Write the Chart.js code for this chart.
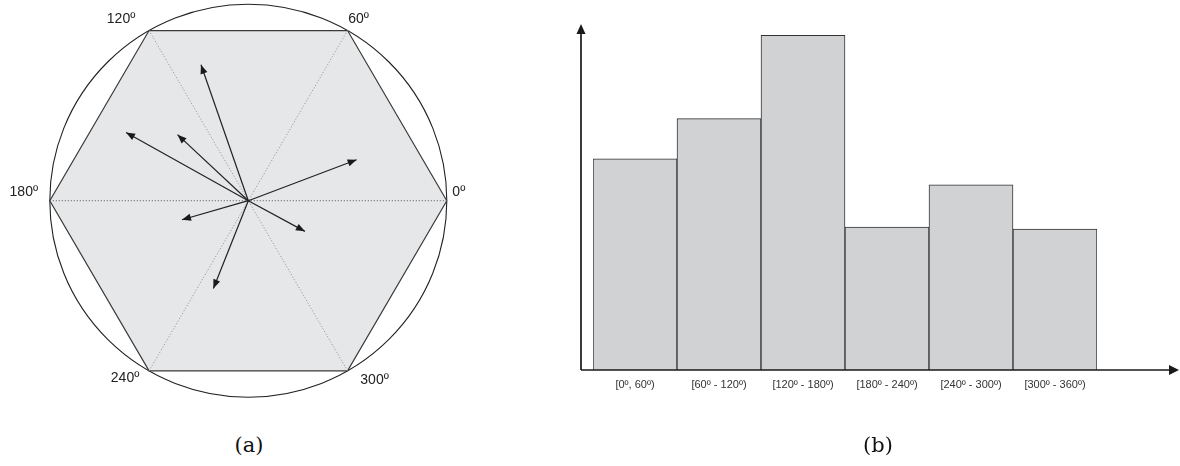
<!DOCTYPE html>
<html><head><meta charset="utf-8">
<script src="https://cdn.jsdelivr.net/npm/chart.js@4.4.0/dist/chart.umd.min.js"></script>
<style>
html,body{margin:0;padding:0;background:#fff;width:1180px;height:466px;overflow:hidden;}
#a{position:absolute;left:0;top:0;}
#b{position:absolute;left:560px;top:0;}
.cap{position:absolute;top:435px;font-family:"DejaVu Serif",serif;font-size:21px;line-height:1;color:#111;transform:translateX(-50%);white-space:nowrap;}
</style></head><body>
<canvas id="a" width="500" height="400"></canvas>
<canvas id="b" width="620" height="466"></canvas>
<div class="cap" style="left:249px">(a)</div>
<div class="cap" style="left:878px">(b)</div>
<script>
// ---- data ----
const sectorAngles = [0, 60, 120, 180, 240, 300];
const sectorLabels = ['0º', '60º', '120º', '180º', '240º', '300º'];
const vectorAngles = [20.9, 109.0, 136.7, 150.6, 196.2, 248.5, 331.3];
const vectorMagnitudes = [0.584, 0.732, 0.490, 0.707, 0.348, 0.480, 0.325];
const circleRadius = 1;
const binLabels = ['[0º, 60º)', '[60º - 120º)', '[120º - 180º)', '[180º - 240º)', '[240º - 300º)', '[300º - 360º)'];
const binValues = [0.631, 0.751, 1.0, 0.427, 0.553, 0.421];

// ---- helpers ----
const rad = d => d * Math.PI / 180;
const pt = (deg, r) => ({ x: r * Math.cos(rad(deg)), y: r * Math.sin(rad(deg)) });

// ---- chart (a) ----
const datasetsA = [];
datasetsA.push({
  data: sectorAngles.concat([sectorAngles[0]]).map(a => pt(a, circleRadius)),
  showLine: true, fill: 'shape', backgroundColor: '#e6e7e8',
  borderColor: '#3a3a3a', borderWidth: 1.2, pointRadius: 0, order: 10
});
sectorAngles.slice(0, 3).forEach((a, i) => {
  datasetsA.push({
    data: [pt(a, circleRadius), pt(a + 180, circleRadius)],
    showLine: true, fill: false, borderColor: i === 0 ? '#555' : '#8e8e8e',
    borderWidth: 1, borderDash: [1, 2], pointRadius: 0, order: 5
  });
});
vectorAngles.forEach((a, i) => {
  datasetsA.push({
    data: [{ x: 0, y: 0 }, pt(a, vectorMagnitudes[i])],
    showLine: true, fill: false, borderColor: '#222', borderWidth: 1.2,
    pointRadius: 0, order: 0, arrow: true
  });
});

const decorA = {
  id: 'decorA',
  beforeDatasetsDraw(chart) {
    const { ctx, scales: { x, y } } = chart;
    const cx = x.getPixelForValue(0), cy = y.getPixelForValue(0);
    const rx = x.getPixelForValue(circleRadius) - cx;
    const ry = cy - y.getPixelForValue(circleRadius);
    ctx.save();
    ctx.beginPath();
    ctx.ellipse(cx, cy, rx, ry, 0, 0, Math.PI * 2);
    ctx.strokeStyle = '#222';
    ctx.lineWidth = 1.1;
    ctx.stroke();
    ctx.restore();
  },
  afterDatasetsDraw(chart) {
    const { ctx } = chart;
    ctx.save();
    chart.data.datasets.forEach((ds, i) => {
      if (!ds.arrow) return;
      const m = chart.getDatasetMeta(i).data;
      const p0 = m[0], p1 = m[1];
      const ang = Math.atan2(p1.y - p0.y, p1.x - p0.x);
      const L = 9, W = 3.6;
      ctx.beginPath();
      ctx.moveTo(p1.x, p1.y);
      ctx.lineTo(p1.x - L * Math.cos(ang) + W * Math.sin(ang), p1.y - L * Math.sin(ang) - W * Math.cos(ang));
      ctx.lineTo(p1.x - L * Math.cos(ang) - W * Math.sin(ang), p1.y - L * Math.sin(ang) + W * Math.cos(ang));
      ctx.closePath();
      ctx.fillStyle = '#1a1a1a';
      ctx.fill();
    });
    // sector labels
    const { x, y } = chart.scales;
    const offs = [[12, -9], [11, -11], [-28, -11], [-26, -9], [-24, 7], [27, 9]];
    ctx.font = '14px "Liberation Sans", Arial, sans-serif';
    ctx.fillStyle = '#222';
    ctx.textAlign = 'center';
    ctx.textBaseline = 'middle';
    sectorAngles.forEach((a, i) => {
      const p = pt(a, circleRadius);
      ctx.fillText(sectorLabels[i], x.getPixelForValue(p.x) + offs[i][0], y.getPixelForValue(p.y) + offs[i][1]);
    });
    ctx.restore();
  }
};

new Chart(document.getElementById('a'), {
  type: 'scatter',
  data: { datasets: datasetsA },
  options: {
    responsive: false, animation: false, devicePixelRatio: 1,
    layout: { padding: 0 },
    plugins: { legend: { display: false }, tooltip: { enabled: false } },
    scales: {
      x: { display: false, min: -1.2509, max: 1.268 },
      y: { display: false, min: -1.0143, max: 1.0214 }
    }
  },
  plugins: [decorA]
});

// ---- chart (b) ----
const axesB = {
  id: 'axesB',
  afterDraw(chart) {
    const { ctx, chartArea, scales: { y } } = chart;
    const x0 = chartArea.left - 12, y0 = y.getPixelForValue(0);
    const top = chartArea.top, right = chartArea.right + 82;
    ctx.save();
    ctx.strokeStyle = '#1a1a1a';
    ctx.fillStyle = '#1a1a1a';
    ctx.lineWidth = 1.7;
    ctx.beginPath();
    ctx.moveTo(x0, y0); ctx.lineTo(x0, top + 6);
    ctx.moveTo(x0, y0); ctx.lineTo(right - 6, y0);
    ctx.stroke();
    ctx.beginPath();
    ctx.moveTo(x0, top); ctx.lineTo(x0 - 4.5, top + 10); ctx.lineTo(x0 + 4.5, top + 10); ctx.closePath();
    ctx.fill();
    ctx.beginPath();
    ctx.moveTo(right, y0); ctx.lineTo(right - 10, y0 - 5); ctx.lineTo(right - 10, y0 + 5); ctx.closePath();
    ctx.fill();
    ctx.restore();
  }
};

new Chart(document.getElementById('b'), {
  type: 'bar',
  data: {
    labels: binLabels,
    datasets: [{
      data: binValues, backgroundColor: '#d1d2d4', borderColor: '#333',
      borderWidth: 1, barPercentage: 1, categoryPercentage: 1
    }]
  },
  options: {
    responsive: false, animation: false, devicePixelRatio: 1,
    layout: { padding: { left: 33, right: 83, top: 24, bottom: 0 } },
    plugins: { legend: { display: false }, tooltip: { enabled: false } },
    scales: {
      x: {
        grid: { display: false, drawTicks: false }, border: { display: false },
        ticks: { color: '#333', font: { family: '"Liberation Sans", Arial, sans-serif', size: 11 }, padding: 8, maxRotation: 0, autoSkip: false },
        afterFit: s => { s.height = 96; }
      },
      y: { display: false, min: 0, max: 1.034 }
    }
  },
  plugins: [axesB]
});
</script>
</body></html>
